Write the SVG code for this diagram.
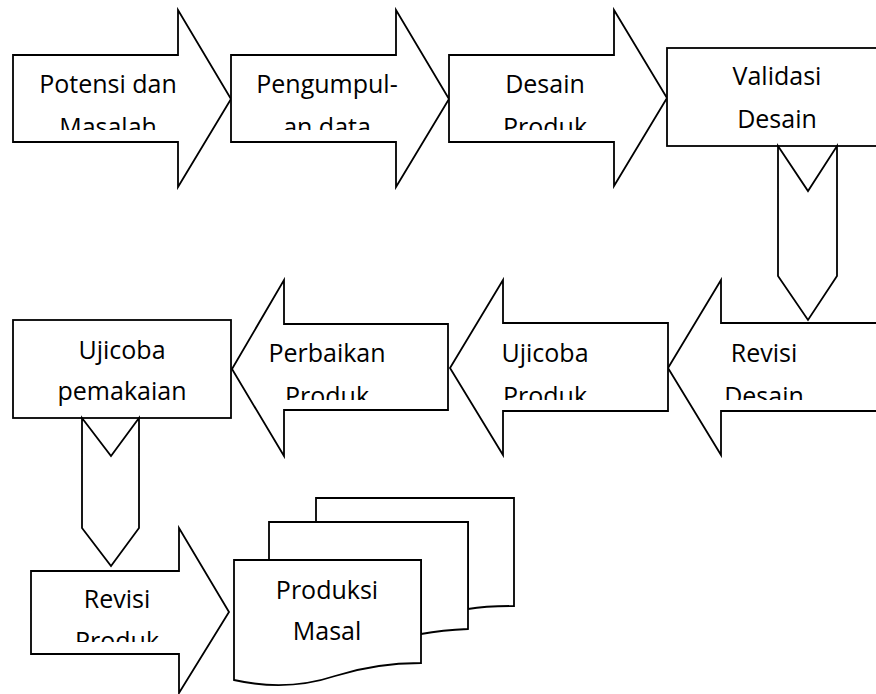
<svg xmlns="http://www.w3.org/2000/svg" width="876" height="694" viewBox="0 0 876 694">
<style>
.s{fill:#fff;stroke:#000;stroke-width:1.8;stroke-linejoin:miter}
.t{font-family:"Open Sans","Noto Sans","DejaVu Sans",sans-serif;font-size:25px;fill:#000;text-anchor:middle}
</style>
<defs>
<clipPath id="c1"><rect x="0" y="0" width="876" height="130"/></clipPath>
<clipPath id="c2"><rect x="0" y="250" width="876" height="150"/></clipPath>
<clipPath id="c3"><rect x="0" y="500" width="876" height="142"/></clipPath>
</defs>
<rect width="876" height="694" fill="#fff"/>
<g id="potensi">
<polygon class="s" points="13,55 178,55 178,10 231,99 178,187 178,142 13,142"/>
<g clip-path="url(#c1)"><text class="t" x="108" y="93">Potensi dan</text><text class="t" x="108" y="136">Masalah</text></g>
</g>
<g id="pengumpulan">
<polygon class="s" points="231,55 396,55 396,10 449,99 396,187 396,142 231,142"/>
<g clip-path="url(#c1)"><text class="t" x="327" y="93">Pengumpul-</text><text class="t" x="327" y="136">an data</text></g>
</g>
<g id="desain">
<polygon class="s" points="449,55 614,55 614,10 667,98 614,186 614,142 449,142"/>
<g clip-path="url(#c1)"><text class="t" x="545" y="93">Desain</text><text class="t" x="545" y="136">Produk</text></g>
</g>
<g id="validasi">
<rect class="s" x="667" y="48" width="222" height="98"/>
<text class="t" x="777" y="85">Validasi</text><text class="t" x="777" y="128">Desain</text>
</g>
<g id="revisi-desain">
<polygon class="s" points="890,323 721,323 721,280 668,368 721,455 721,411 890,411"/>
<g clip-path="url(#c2)"><text class="t" x="764" y="362">Revisi</text><text class="t" x="764" y="405">Desain</text></g>
</g>
<g id="ujicoba-produk">
<polygon class="s" points="668,323 503,323 503,280 450,368 503,455 503,411 668,411"/>
<g clip-path="url(#c2)"><text class="t" x="545" y="362">Ujicoba</text><text class="t" x="545" y="405">Produk</text></g>
</g>
<g id="perbaikan">
<polygon class="s" points="448,324 284,324 284,280 232,369 284,456 284,410 448,410"/>
<g clip-path="url(#c2)"><text class="t" x="327" y="362">Perbaikan</text><text class="t" x="327" y="405">Produk</text></g>
</g>
<g id="ujicoba-pemakaian">
<rect class="s" x="13" y="320" width="218" height="98"/>
<text class="t" x="122" y="359">Ujicoba</text><text class="t" x="122" y="400">pemakaian</text>
</g>
<g id="revisi-produk">
<polygon class="s" points="31,571 179,571 179,528 229,612 179,693 179,654 31,654"/>
<g clip-path="url(#c3)"><text class="t" x="117" y="608">Revisi</text><text class="t" x="117" y="650">Produk</text></g>
</g>
<g id="produksi">
<path class="s" d="M316,498 H514 V606 C495,606 480,607 468,609 L468,609 V522 H316 Z"/>
<path class="s" d="M269,522 H468 V629 C445,630 432,632 421,634 V560 H269 Z"/>
<path class="s" d="M234,560 H421 V663 C385,663 360,668 335,676 C305,686 270,688 234,680 Z"/>
<text class="t" x="327" y="599">Produksi</text><text class="t" x="327" y="640">Masal</text>
</g>
<g id="connectors">
<polygon class="s" points="778,146 808,191 837,146 837,276 808,320 778,276"/>
<polygon class="s" points="82,418 111,456 139,418 139,528 111,566 82,528"/>
</g>
</svg>
